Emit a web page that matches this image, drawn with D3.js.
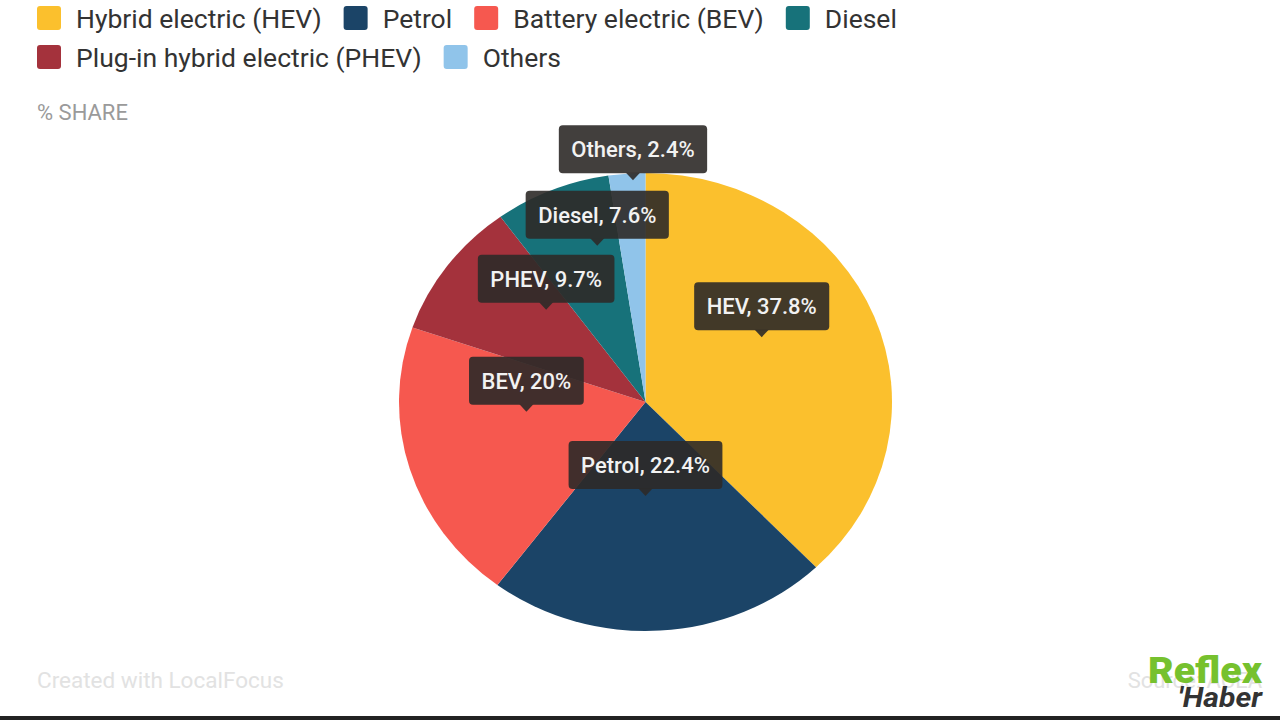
<!DOCTYPE html>
<html>
<head>
<meta charset="utf-8">
<script src="https://cdn.jsdelivr.net/npm/d3@7"></script>
<style>
  body { margin: 0; background: #fff; }
  text { font-family: Roboto, "Noto Sans", sans-serif; }
</style>
</head>
<body>
<div id="container"></div>
<script>
// datos
const legendNames = ["Hybrid electric (HEV)", "Petrol", "Battery electric (BEV)", "Diesel",
                     "Plug-in hybrid electric (PHEV)", "Others"];
const legendColors = ["#fbc02d", "#1b4467", "#f6584f", "#17727a", "#a4323c", "#90c4ea"];

const sliceKeys = ["HEV", "Petrol", "BEV", "PHEV", "Diesel", "Others"];
const sliceShares = [37.8, 22.4, 20, 9.7, 7.6, 2.4];
const sliceColors = ["#fbc02d", "#1b4467", "#f6584f", "#a4323c", "#17727a", "#90c4ea"];

const WIDTH = 1280,
      HEIGHT = 720;

// la torta viene algo estirada en horizontal
const pieCenter = { x: 645.5, y: 402 };
const R = 229,
      SX = 246.5 / 229;

// donde apunta cada etiqueta: [fraccion del radio, angulo en grados]
const labelSpots = {
    HEV: [0.55, 59], Petrol: [0.41, 180], BEV: [0.485, 265],
    PHEV: [0.57, 315], Diesel: [0.71, 344], Others: [0.97, 357]
};

const svg = d3.select('#container')
    .append('svg')
    .attr("width", WIDTH)
    .attr("height", HEIGHT);

// leyenda
const legend = svg.append("g").attr("class", "legend");
let lx = 37, ly = 18;
const maxX = 960;
legendNames.forEach((name, i) => {
    const item = legend.append("g");
    item.append("rect")
        .attr("width", 24).attr("height", 24)
        .attr("rx", 3)
        .attr("y", -12)
        .attr("fill", legendColors[i]);
    const t = item.append("text")
        .attr("x", 39)
        .attr("dy", "0.36em")
        .attr("font-size", 26.5)
        .attr("fill", "#333")
        .text(name);
    const w = 39 + t.node().getComputedTextLength();
    if (lx + w > maxX) { lx = 37; ly += 39; }
    item.attr("transform", `translate(${lx},${ly})`);
    lx += w + 22;
});

svg.append("text")
    .attr("x", 37).attr("y", 120)
    .attr("font-size", 22)
    .attr("fill", "#9a9a9a")
    .text("% SHARE");

// torta
const data = sliceKeys.map((k, i) => ({ key: k, share: sliceShares[i], color: sliceColors[i] }));
const pie = d3.pie().sort(null).value(d => d.share);
const arc = d3.arc().innerRadius(0).outerRadius(R);

const pieG = svg.append("g")
    .attr("transform", `translate(${pieCenter.x},${pieCenter.y}) scale(${SX},1)`);

pieG.selectAll("path")
    .data(pie(data))
    .join("path")
    .attr("d", arc)
    .attr("fill", d => d.data.color);

// etiquetas tipo tooltip
const tips = svg.append("g").attr("class", "tips");
data.forEach(d => {
    const [f, ang] = labelSpots[d.key];
    const p = d3.pointRadial(ang * Math.PI / 180, f * R);
    const g = tips.append("g")
        .attr("transform", `translate(${pieCenter.x + p[0] * SX},${pieCenter.y + p[1]})`);
    const box = g.append("rect");
    const t = g.append("text")
        .attr("text-anchor", "middle")
        .attr("y", -7 - 24)
        .attr("dy", "0.36em")
        .attr("font-size", 22)
        .attr("font-weight", 500)
        .attr("fill", "#f2f2f2")
        .text(`${d.key}, ${d.share}%`);
    const w = t.node().getComputedTextLength() + 25;
    box.attr("x", -w / 2).attr("y", -7 - 48)
        .attr("width", w).attr("height", 48)
        .attr("rx", 4)
        .attr("fill", "rgba(45,42,40,0.9)");
    g.insert("path", "text")
        .attr("d", "M-7,-7.5L0,0L7,-7.5Z")
        .attr("fill", "rgba(45,42,40,0.9)");
});

// pie de pagina
svg.append("text")
    .attr("x", 37).attr("y", 688)
    .attr("font-size", 22.5)
    .attr("fill", "#e2e2e2")
    .text("Created with LocalFocus");

svg.append("text")
    .attr("x", 1262).attr("y", 688)
    .attr("text-anchor", "end")
    .attr("font-size", 22)
    .attr("fill", "#e2e2e2")
    .text("Source: ACEA");

// logo
svg.append("text")
    .attr("x", 1148).attr("y", 683)
    .attr("font-size", 36)
    .attr("font-weight", 900)
    .attr("textLength", 114)
    .attr("lengthAdjust", "spacingAndGlyphs")
    .attr("fill", "#76c12e")
    .text("Reflex");
svg.append("text")
    .attr("x", 1178).attr("y", 707)
    .attr("font-size", 28)
    .attr("font-weight", 700)
    .attr("font-style", "italic")
    .attr("textLength", 84)
    .attr("lengthAdjust", "spacingAndGlyphs")
    .attr("fill", "#333")
    .text("'Haber");

svg.append("rect")
    .attr("x", 0).attr("y", 716)
    .attr("width", WIDTH).attr("height", 4)
    .attr("fill", "#222");
</script>
</body>
</html>
